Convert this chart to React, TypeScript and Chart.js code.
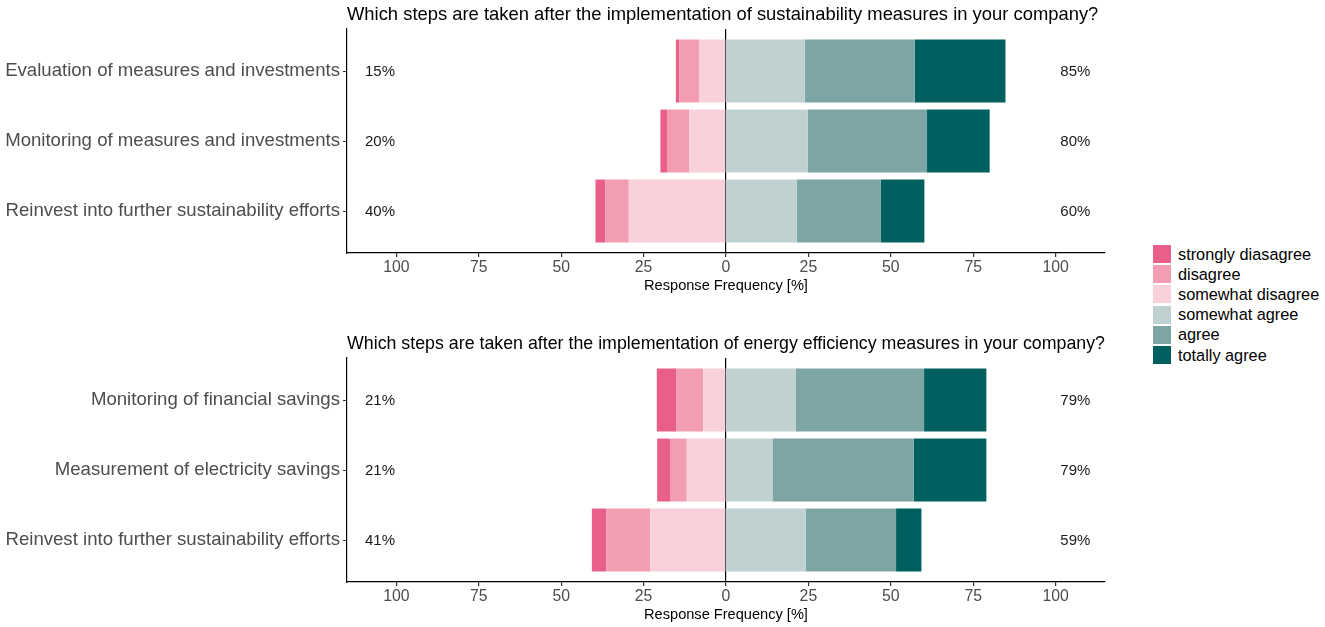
import React, { useEffect, useRef } from "react";
import { Chart, registerables } from "chart.js";

Chart.register(...registerables);

const LEVELS = ["strongly diasagree", "disagree", "somewhat disagree", "somewhat agree", "agree", "totally agree"];
const COLORS = ["#E8608A", "#F29DB2", "#F8D1DA", "#BFD1D1", "#7EA5A6", "#006060"];

const TITLE1 = "Which steps are taken after the implementation of sustainability measures in your company?";
const CATS1 = ["Evaluation of measures and investments", "Monitoring of measures and investments", "Reinvest into further sustainability efforts"];
const STRONGLY1 = [1, 2, 3];
const DISAGREE1 = [6, 6.7, 7.1];
const SOMEWHATDIS1 = [8.2, 11.2, 29.5];
const SOMEWHATAGR1 = [23.9, 24.8, 21.5];
const AGREE1 = [33.4, 36.2, 25.5];
const TOTALLY1 = [27.5, 19, 13.2];
const LEFTPCT1 = ["15%", "20%", "40%"];
const RIGHTPCT1 = ["85%", "80%", "60%"];

const TITLE2 = "Which steps are taken after the implementation of energy efficiency measures in your company?";
const CATS2 = ["Monitoring of financial savings", "Measurement of electricity savings", "Reinvest into further sustainability efforts"];
const STRONGLY2 = [6, 3.9, 4.4];
const DISAGREE2 = [8.1, 5.1, 13.3];
const SOMEWHATDIS2 = [6.9, 11.9, 23];
const SOMEWHATAGR2 = [21.1, 14.1, 24.2];
const AGREE2 = [39, 42.9, 27.4];
const TOTALLY2 = [18.9, 22, 7.7];
const LEFTPCT2 = ["21%", "21%", "41%"];
const RIGHTPCT2 = ["79%", "79%", "59%"];

const X_TICKS = [-100, -75, -50, -25, 0, 25, 50, 75, 100];
const X_MIN = -115;
const X_MAX = 115;
const LEFT_LABEL_X = -105;
const RIGHT_LABEL_X = 106;

const FONT = "'Liberation Sans', Arial, sans-serif";

type PanelProps = {
  title: string;
  cats: string[];
  strongly: number[];
  disagree: number[];
  somewhatDis: number[];
  somewhatAgr: number[];
  agree: number[];
  totally: number[];
  leftPct: string[];
  rightPct: string[];
};

function Panel(p: PanelProps) {
  const ref = useRef<HTMLCanvasElement | null>(null);
  useEffect(() => {
    if (!ref.current) return;
    const pts = (arr: number[], sign: number) => arr.map((v, i) => ({ x: sign * v, y: i + 1 }));
    const ds = (label: string, color: string, data: { x: number; y: number }[]) => ({
      label,
      data,
      backgroundColor: color,
      borderWidth: 0,
      categoryPercentage: 1,
      barPercentage: 0.9,
    });
    const labelPlugin = {
      id: "pctLabels",
      afterDatasetsDraw(chart: any) {
        const ctx = chart.ctx;
        const xs = chart.scales.x;
        const ys = chart.scales.y;
        ctx.save();
        ctx.font = `15px ${FONT}`;
        ctx.fillStyle = "#1a1a1a";
        ctx.textAlign = "center";
        ctx.textBaseline = "middle";
        p.cats.forEach((_, i) => {
          const y = ys.getPixelForValue(i + 1) + 1;
          ctx.fillText(p.leftPct[i], xs.getPixelForValue(LEFT_LABEL_X), y);
          ctx.fillText(p.rightPct[i], xs.getPixelForValue(RIGHT_LABEL_X), y);
        });
        ctx.restore();
      },
    };
    const chart = new Chart(ref.current, {
      type: "bar",
      data: {
        datasets: [
          ds(LEVELS[2], COLORS[2], pts(p.somewhatDis, -1)),
          ds(LEVELS[1], COLORS[1], pts(p.disagree, -1)),
          ds(LEVELS[0], COLORS[0], pts(p.strongly, -1)),
          ds(LEVELS[3], COLORS[3], pts(p.somewhatAgr, 1)),
          ds(LEVELS[4], COLORS[4], pts(p.agree, 1)),
          ds(LEVELS[5], COLORS[5], pts(p.totally, 1)),
        ] as any,
      },
      options: {
        indexAxis: "y",
        animation: false,
        responsive: false,
        maintainAspectRatio: false,
        layout: { padding: { left: 0, right: 35, top: 0, bottom: 0 } },
        plugins: {
          legend: { display: false },
          tooltip: { enabled: false },
          title: {
            display: true,
            text: p.title,
            align: "start",
            fullSize: false,
            color: "#000000",
            font: { family: FONT, size: 18.4, weight: "normal" },
            padding: { top: 4, bottom: 3 },
          },
        },
        scales: {
          x: {
            type: "linear",
            stacked: true,
            min: X_MIN,
            max: X_MAX,
            afterBuildTicks: (s: any) => {
              s.ticks = X_TICKS.map((v) => ({ value: v }));
            },
            afterFit: (s: any) => {
              s.height = 47;
            },
            ticks: {
              color: "#4d4d4d",
              font: { family: FONT, size: 15.8 },
              padding: 1,
              maxRotation: 0,
              callback: (v: any) => String(Math.abs(Number(v))),
            },
            grid: {
              drawOnChartArea: true,
              drawTicks: true,
              tickLength: 4,
              tickColor: "#333333",
              color: (c: any) => (c.tick && c.tick.value === 0 ? "#000000" : "rgba(0,0,0,0)"),
              lineWidth: 1.2,
            },
            border: { display: true, color: "#000000", width: 1.2 },
            title: {
              display: true,
              text: "Response Frequency [%]",
              color: "#000000",
              font: { family: FONT, size: 14.6 },
              padding: { top: 0, bottom: 5 },
            },
          },
          y: {
            type: "linear",
            stacked: true,
            reverse: true,
            offset: false,
            min: 0.4,
            max: 3.6,
            afterBuildTicks: (s: any) => {
              s.ticks = p.cats.map((_, i) => ({ value: i + 1 }));
            },
            afterFit: (s: any) => {
              s.width = 347;
            },
            ticks: {
              color: "#4d4d4d",
              font: { family: FONT, size: 18.6 },
              padding: 3,
              callback: (v: any) => p.cats[Number(v) - 1] ?? "",
            },
            grid: {
              offset: false,
              drawOnChartArea: false,
              drawTicks: true,
              tickLength: 4,
              tickColor: "#333333",
            },
            border: { display: true, color: "#000000", width: 1.2 },
          },
        },
      } as any,
      plugins: [labelPlugin],
    });
    return () => chart.destroy();
  }, []);
  return <canvas ref={ref} width={1140} height={300} style={{ display: "block", width: 1140, height: 300 }} />;
}

export default function App() {
  useEffect(() => {
    document.body.style.margin = "0";
  }, []);
  return (
    <div style={{ position: "relative", width: 1325, height: 627, background: "#fff", fontFamily: FONT }}>
      <div style={{ position: "absolute", left: 0, top: 0 }}>
        <Panel
          title={TITLE1}
          cats={CATS1}
          strongly={STRONGLY1}
          disagree={DISAGREE1}
          somewhatDis={SOMEWHATDIS1}
          somewhatAgr={SOMEWHATAGR1}
          agree={AGREE1}
          totally={TOTALLY1}
          leftPct={LEFTPCT1}
          rightPct={RIGHTPCT1}
        />
      </div>
      <div style={{ position: "absolute", left: 0, top: 329 }}>
        <Panel
          title={TITLE2}
          cats={CATS2}
          strongly={STRONGLY2}
          disagree={DISAGREE2}
          somewhatDis={SOMEWHATDIS2}
          somewhatAgr={SOMEWHATAGR2}
          agree={AGREE2}
          totally={TOTALLY2}
          leftPct={LEFTPCT2}
          rightPct={RIGHTPCT2}
        />
      </div>
      <div style={{ position: "absolute", left: 1153, top: 244 }}>
        {LEVELS.map((l, i) => (
          <div key={l} style={{ display: "flex", alignItems: "center", height: 20.2 }}>
            <div style={{ width: 18, height: 18, background: COLORS[i], marginRight: 7 }} />
            <span style={{ fontSize: 16.3, color: "#000" }}>{l}</span>
          </div>
        ))}
      </div>
    </div>
  );
}
